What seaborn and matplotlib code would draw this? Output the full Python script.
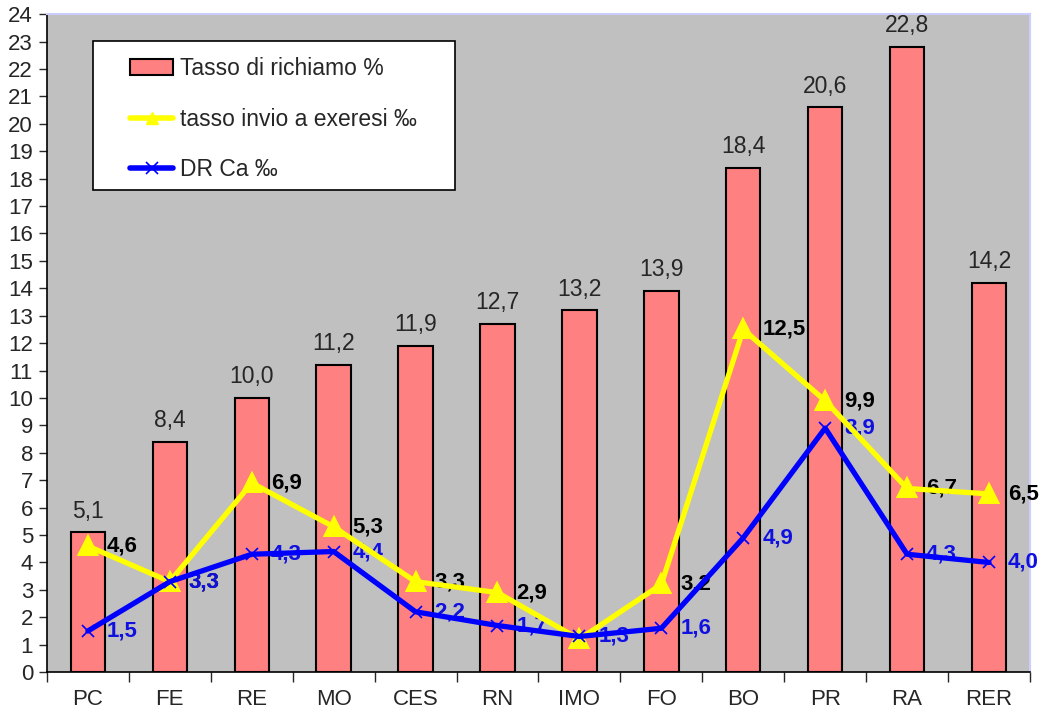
import matplotlib
matplotlib.use('Agg')
import matplotlib.pyplot as plt
from matplotlib.patches import Patch, Rectangle
from matplotlib.lines import Line2D
import seaborn as sns

regions = ['PC', 'FE', 'RE', 'MO', 'CES', 'RN', 'IMO', 'FO', 'BO', 'PR', 'RA', 'RER']
richiamo = [5.1, 8.4, 10.0, 11.2, 11.9, 12.7, 13.2, 13.9, 18.4, 20.6, 22.8, 14.2]
exeresi = [4.6, 3.3, 6.9, 5.3, 3.3, 2.9, 1.2, 3.2, 12.5, 9.9, 6.7, 6.5]
dr_ca = [1.5, 3.3, 4.3, 4.4, 2.2, 1.7, 1.3, 1.6, 4.9, 8.9, 4.3, 4.0]

sns.set_style('white')
plt.rcParams['font.family'] = ['Liberation Sans', 'DejaVu Sans']

def comma(v):
    return f'{v:.1f}'.replace('.', ',')

fig = plt.figure(figsize=(10.43, 7.09), dpi=100)
ax = fig.add_axes([0.045, 0.052, 0.9425, 0.928])
ax.set_facecolor('#C0C0C0')

sns.barplot(x=regions, y=richiamo, color='#FF8080', saturation=1, width=0.42,
            edgecolor='black', linewidth=1.5, ax=ax, zorder=2)
ax.bar_label(ax.containers[0], labels=[comma(v) for v in richiamo],
             padding=7, fontsize=16.5, zorder=3)

sns.pointplot(x=regions, y=exeresi, color='#FFFF00', markers='^', linestyles='-',
              errorbar=None, markersize=11, linewidth=3.8, ax=ax, zorder=5)
sns.pointplot(x=regions, y=dr_ca, color='#0000FF', markers='x', linestyles='-',
              errorbar=None, markersize=8, linewidth=3.8, markeredgewidth=1.2,
              ax=ax, zorder=6)

# valori delle linee, a destra dei punti
for i, v in enumerate(exeresi):
    if regions[i] == 'IMO':
        continue
    ax.annotate(comma(v), (i, v), xytext=(19, 0), textcoords='offset pixels',
                ha='left', va='center', fontsize=16, fontweight='bold',
                color='black', zorder=4)
for i, v in enumerate(dr_ca):
    ax.annotate(comma(v), (i, v), xytext=(19, 0), textcoords='offset pixels',
                ha='left', va='center', fontsize=16, fontweight='bold',
                color='#1010E0', zorder=4)

ax.set_ylim(0, 24)
ax.set_xlim(-0.5, 11.5)
ax.set_yticks(range(0, 25))
ax.tick_params(axis='y', labelsize=16, length=6, width=1, direction='out', left=True, pad=4)
ax.set_xticks(range(12))
ax.set_xticklabels(regions)
ax.set_xticks([i + 0.5 for i in range(-1, 12)], minor=True)
ax.tick_params(axis='x', which='major', length=0, labelsize=16, pad=12)
ax.tick_params(axis='x', which='minor', length=7, width=1, direction='out', bottom=True)

for side in ['left', 'bottom']:
    ax.spines[side].set_color('black')
    ax.spines[side].set_linewidth(1.2)
for side in ['top', 'right']:
    ax.spines[side].set_color('#CCCCFF')
    ax.spines[side].set_linewidth(1.5)

# riquadro della legenda
ax.add_patch(Rectangle((0.0468, 0.7325), 0.368, 0.2264, transform=ax.transAxes,
                       facecolor='white', edgecolor='black', linewidth=1.2, zorder=10))

handles = [
    Patch(facecolor='#FF8080', edgecolor='black', linewidth=1.5),
    Line2D([], [], color='#FFFF00', linewidth=4, marker='^', markersize=9),
    Line2D([], [], color='#0000FF', linewidth=4, marker='x', markersize=8,
           markeredgewidth=1.2),
]
labels = ['Tasso di richiamo %', 'tasso invio a exeresi \u2030', 'DR Ca \u2030']
leg = ax.legend(handles, labels, loc='upper left', bbox_to_anchor=(0.0844, 0.9346),
                fontsize=16.5, frameon=False, borderpad=0, labelspacing=1.2,
                handlelength=1.9, handletextpad=0.3, borderaxespad=0)
leg.set_zorder(11)

fig.savefig('out.png', dpi=100)
